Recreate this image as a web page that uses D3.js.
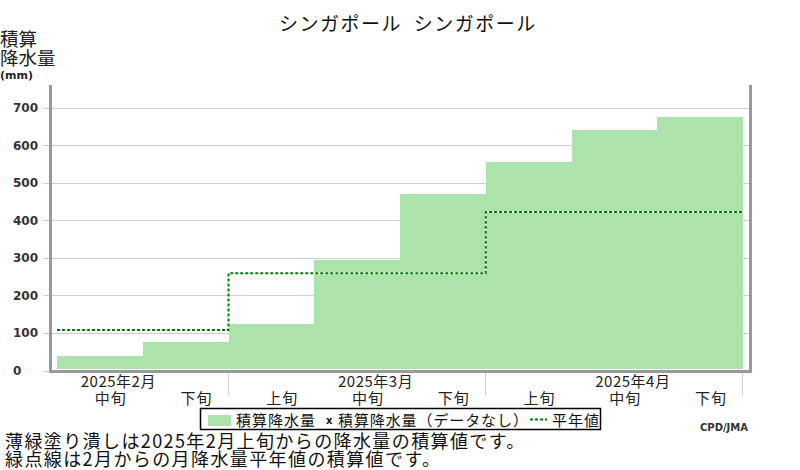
<!DOCTYPE html>
<html><head><meta charset="utf-8">
<script src="https://cdn.jsdelivr.net/npm/d3@7"></script>
<style>body{margin:0;background:#fff}svg{display:block}</style>
</head><body>
<svg id="c" width="800" height="470"></svg>
<script>
// ---- data ----
const titleText = "シンガポール シンガポール";
const yAxisLabel = ["積算", "降水量"];
const yAxisUnit = "(mm)";
const dekadLabels = ["中旬","下旬","上旬","中旬","下旬","上旬","中旬","下旬"];
const monthLabels = ["2025年2月","2025年3月","2025年4月"];
const monthStartDekad = [-1, 2, 5];   // first dekad index of each month (Feb 上旬 precedes the range)
const accumPrecip = [38, 76, 124, 294, 470, 555, 640, 675];
const normalAccum = [108, 108, 259, 259, 259, 422, 422, 422];
const yTicks = [0, 100, 200, 300, 400, 500, 600, 700];
const legendLabels = ["積算降水量", "積算降水量（データなし）", "平年値"];
const noteLines = ["薄緑塗り潰しは2025年2月上旬からの降水量の積算値です。", "緑点線は2月からの月降水量平年値の積算値です。"];

// ---- drawing ----
(function () {
const svg = d3.select("#c");
const JP = "'Noto Sans CJK JP','Noto Sans',sans-serif";
const BAR = "#abe3aa", GREEN = "#008000", AX = "#999", GRID = "#cfcfcf";

const x = d3.scaleLinear().domain([0, dekadLabels.length]).range([57, 743]);
const y = d3.scaleLinear().domain([0, 700]).range([370.5, 107.5]);
const pLeft = 50.5, pRight = 750.5, pTop = 85, pBottom = 371.5;

// title
svg.append("text").attr("x", 408).attr("y", 31).attr("text-anchor", "middle")
  .attr("font-family", JP).attr("font-size", 19).attr("letter-spacing", 1.5).attr("word-spacing", 6)
  .attr("fill", "#111").text(titleText);

// y axis label (one multi-line text)
const yl = svg.append("text").attr("x", 0).attr("y", 46).attr("font-family", JP).attr("font-size", 18.5).attr("fill", "#222");
yl.selectAll("tspan.l").data(yAxisLabel).join("tspan").attr("class", "l")
  .attr("x", 0).attr("dy", (d, i) => i === 0 ? 0 : 19).text(d => d);
yl.append("tspan").attr("x", 0).attr("dy", 13.5).attr("font-family", "DejaVu Sans").attr("font-weight", "bold")
  .attr("font-size", 11).text(yAxisUnit);

// gridlines + ticks
const g = svg.append("g");
g.selectAll("line.grid").data(yTicks).join("line")
  .attr("x1", 43).attr("x2", pRight).attr("y1", d => Math.round(y(d)) + 0.5).attr("y2", d => Math.round(y(d)) + 0.5)
  .attr("stroke", GRID).attr("stroke-width", 1);
g.selectAll("text.yt").data(yTicks).join("text")
  .attr("x", 13).attr("y", d => y(d) + 4.5)
  .attr("font-family", "DejaVu Sans").attr("font-weight", "bold").attr("font-size", 12).attr("fill", "#333")
  .text(d => d);

// bars
svg.append("g").selectAll("rect").data(accumPrecip).join("rect")
  .attr("x", (d, i) => x(i)).attr("width", (d, i) => x(i + 1) - x(i))
  .attr("y", d => y(d)).attr("height", d => 369 - y(d))
  .attr("fill", BAR).attr("shape-rendering", "crispEdges");

// normal dotted step line
const pts = normalAccum.map((v, i) => [x(i), y(v)]);
pts.push([x(normalAccum.length), y(normalAccum[normalAccum.length - 1])]);
const line = d3.line().curve(d3.curveStepAfter);
svg.append("path").attr("d", line(pts)).attr("fill", "none").attr("stroke", "#fff").attr("stroke-width", 2);
svg.append("path").attr("d", line(pts)).attr("fill", "none").attr("stroke", GREEN).attr("stroke-width", 2).attr("stroke-dasharray", "3,2");

// axes frame
svg.append("line").attr("x1", pLeft).attr("x2", pLeft).attr("y1", pTop).attr("y2", pBottom + 1.5).attr("stroke", AX).attr("stroke-width", 3);
svg.append("line").attr("x1", pRight).attr("x2", pRight).attr("y1", pTop).attr("y2", pBottom + 1.5).attr("stroke", AX).attr("stroke-width", 3);
svg.append("line").attr("x1", pLeft - 1.5).attr("x2", pRight + 1.5).attr("y1", pBottom).attr("y2", pBottom).attr("stroke", AX).attr("stroke-width", 3);

// month ticks
const monthEnds = monthStartDekad.map(s => s + 3);
svg.append("g").selectAll("line").data(monthEnds).join("line")
  .attr("x1", d => Math.round(x(d)) - 0.5).attr("x2", d => Math.round(x(d)) - 0.5)
  .attr("y1", 373).attr("y2", 395).attr("stroke", GRID).attr("stroke-width", 1);

// month labels
svg.append("g").selectAll("text").data(monthLabels).join("text")
  .attr("x", (d, i) => (x(monthStartDekad[i]) + x(monthStartDekad[i] + 3)) / 2 + 18.5)
  .attr("y", 387).attr("text-anchor", "middle")
  .attr("font-family", JP).attr("font-size", 15).attr("letter-spacing", 0.5).attr("fill", "#222").text(d => d);

// dekad labels
svg.append("g").selectAll("text").data(dekadLabels).join("text")
  .attr("x", (d, i) => (x(i) + x(i + 1)) / 2 + 11)
  .attr("y", 404).attr("text-anchor", "middle")
  .attr("font-family", JP).attr("font-size", 15).attr("letter-spacing", 1).attr("fill", "#222").text(d => d);

// legend
const lg = svg.append("g");
lg.append("rect").attr("x", 200.5).attr("y", 408.5).attr("width", 400).attr("height", 21)
  .attr("fill", "#fff").attr("stroke", "#000").attr("stroke-width", 1.5);
lg.append("rect").attr("x", 208).attr("y", 415).attr("width", 23).attr("height", 11).attr("fill", BAR);
lg.append("text").attr("x", 236).attr("y", 426).attr("font-family", JP).attr("font-size", 15).attr("letter-spacing", 1).attr("fill", "#111").text(legendLabels[0]);
lg.append("text").attr("x", 326).attr("y", 424).attr("font-family", "DejaVu Sans").attr("font-weight", "bold").attr("font-size", 10).attr("fill", "#111").text("x");
lg.append("text").attr("x", 338).attr("y", 426).attr("font-family", JP).attr("font-size", 15).attr("letter-spacing", 0.9).attr("fill", "#111").text(legendLabels[1]);
lg.append("line").attr("x1", 530).attr("x2", 547).attr("y1", 419.5).attr("y2", 419.5)
  .attr("stroke", GREEN).attr("stroke-width", 2).attr("stroke-dasharray", "3,2");
lg.append("text").attr("x", 552).attr("y", 426).attr("font-family", JP).attr("font-size", 15).attr("letter-spacing", 1).attr("fill", "#111").text(legendLabels[2]);

// credit
svg.append("text").attr("x", 700).attr("y", 431).attr("font-family", "DejaVu Sans").attr("font-weight", "bold").attr("font-size", 10).attr("fill", "#333").text("CPD/JMA");

// notes (one multi-line text)
svg.append("text").attr("x", 5).attr("y", 448)
  .attr("font-family", JP).attr("font-size", 18).attr("letter-spacing", 1.4).attr("fill", "#111")
  .selectAll("tspan").data(noteLines).join("tspan")
  .attr("x", 5).attr("dy", (d, i) => i === 0 ? 0 : 18).text(d => d);
})();
</script>
</body></html>
